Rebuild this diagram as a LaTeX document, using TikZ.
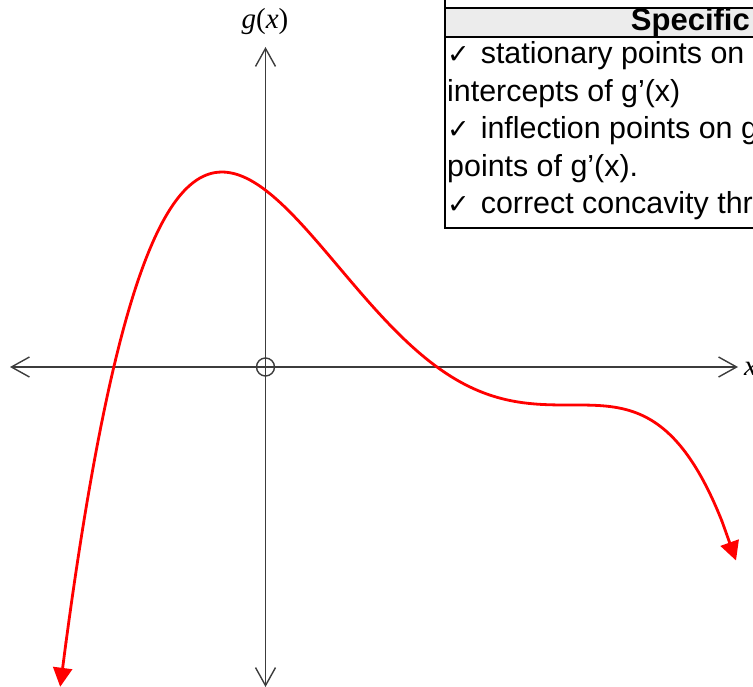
\documentclass[tikz,border=0pt]{standalone}
\usepackage{fontspec}
\setmainfont{Liberation Sans}
\newfontfamily\checkfont{DejaVu Sans}
\newfontfamily\timesfont{Liberation Serif}
\usetikzlibrary{arrows.meta, positioning}
\definecolor{axisgray}{RGB}{60,60,60}
\definecolor{curvered}{RGB}{255,0,0}
\definecolor{headgray}{RGB}{236,236,236}
\newcommand{\tick}{{\checkfont\fontsize{27}{27}\selectfont ✓}\hspace{11pt}}

\begin{document}
\begin{tikzpicture}[
        x=1pt, y=-1pt,
        axis/.style={draw=axisgray, line width=1.4pt, {Straight Barb[length=18pt,width=20pt]}-{Straight Barb[length=18pt,width=20pt]}},
        graph/.style={draw=curvered, line width=2.8pt, line cap=round},
        tip/.style={-{Triangle[length=19pt,width=19pt]}},
        cell/.style={font=\fontsize{30.4}{37.5}\selectfont, inner sep=0pt, anchor=west},
        border/.style={draw=black, line width=2pt}
    ]
    \useasboundingbox (0,0) rectangle (753,687);
    \clip (0,0) rectangle (753,687);

    \coordinate (xl) at (10,367);
    \coordinate (xr) at (738,367);
    \coordinate (yt) at (265.5,47);
    \coordinate (yb) at (265.5,687);
    \draw[axis] (xl) -- (xr);
    \draw[axis] (yb) -- (yt);
    \node[draw=axisgray, line width=1.4pt, circle, minimum size=18pt, inner sep=0pt] (o) at (265.5,367) {};
    \node[font=\timesfont\fontsize{29}{29}\selectfont] (glab) at (265,22) {\textit{g}(\textit{x})};
    \node[font=\timesfont\fontsize{29}{29}\selectfont, anchor=west, inner sep=0pt] (xlab) at (744,369) {\textit{x}};

    \coordinate (lb) at (66,642.2);
    \coordinate (lt) at (60.2,686.8);
    \coordinate (rb) at (722,521.3);
    \coordinate (rt) at (736,560.5);
    \draw[graph] plot[domain=-5.06:0, samples=160, smooth] ({572+100*\x}, {405+18.63*(\x*\x*\x*\x/4+3.5*\x*\x*\x/3)})
        -- plot[domain=0:1.5, samples=50, smooth] ({572+100*\x}, {405+22.356*(\x*\x*\x*\x/4+3.5*\x*\x*\x/3)});
    \draw[graph, tip] (lb) -- (lt);
    \draw[graph, tip] (rb) -- (rt);

    \fill[headgray] (445,8) rectangle (760,37);
    \draw[border] (445,8) -- (760,8);
    \draw[draw=black, line width=1.5pt] (445,37) -- (760,37);
    \draw[border] (445,0) -- (445,228) -- (760,228);
    \node[font=\bfseries\fontsize{31}{31}\selectfont, anchor=east, inner sep=0pt] (head) at (750,22.5) {Specific};

    \node[cell] (l1) at (447,56) {\tick stationary points on};
    \node[cell] (l2) at (447,93.5) {intercepts of g’(x)};
    \node[cell] (l3) at (447,131) {\tick inflection points on g};
    \node[cell] (l4) at (447,168.5) {points of g’(x).};
    \node[cell] (l5) at (447,206) {\tick correct concavity thr};
\end{tikzpicture}
\end{document}
